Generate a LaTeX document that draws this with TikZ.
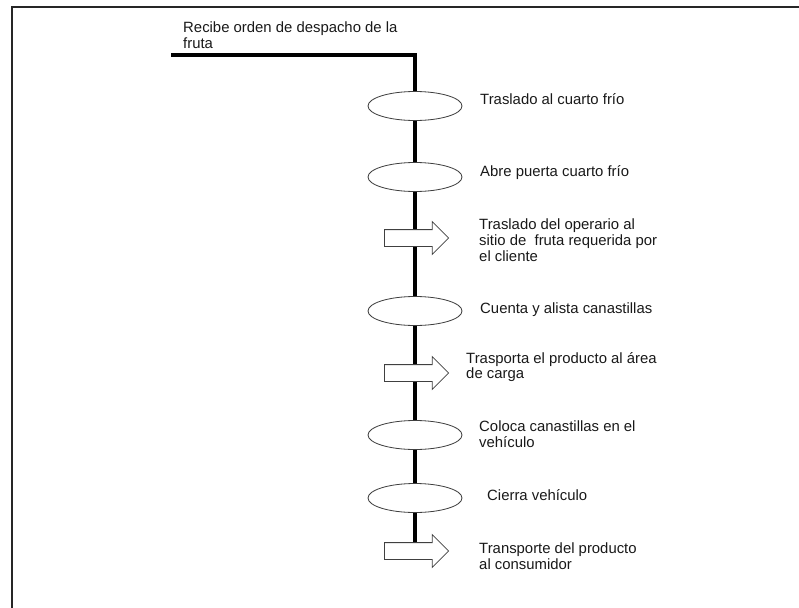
\documentclass[tikz,border=0pt]{standalone}
\usepackage{fontspec}
\setmainfont{Liberation Sans}
\usetikzlibrary{shapes.geometric,shapes.arrows,backgrounds}

\begin{document}
\begin{tikzpicture}[x=0.03cm,y=-0.03cm,
        marco/.style={line width=1.8pt, black!85},
        linea/.style={line width=3.2pt},
        operacion/.style={ellipse, draw=black!75, fill=white, line width=0.7pt,
            minimum width=2.82cm, minimum height=0.87cm, inner sep=0pt},
        transporte/.style={single arrow, draw=black!75, fill=white, line width=0.7pt,
            inner xsep=0.825cm, inner ysep=0.24cm, single arrow head extend=0.24cm, anchor=tail},
        texto/.style={anchor=west, align=left, inner sep=0pt, text=black!90,
            font=\fontsize{12.7}{13.4}\selectfont}]
    \useasboundingbox (0,0) rectangle (799,608);
    \draw[marco] (12,608) |- (799,7);

    \coordinate (inicio) at (171,55);
    \node[texto] (recibe) at (183,35) {Recibe orden de despacho de la\\fruta};

    \node[operacion] (op1) at (415,106) {};
    \node[operacion] (op2) at (415,177) {};
    \node[transporte] (tr3) at (384,238) {};
    \node[operacion] (op4) at (415,311) {};
    \node[transporte] (tr5) at (384,373) {};
    \node[operacion] (op6) at (415,435) {};
    \node[operacion] (op7) at (415,498) {};
    \node[transporte] (tr8) at (384,551) {};

    \begin{scope}[on background layer]
        \draw[linea] (inicio) -| (op1.center) -- (op2.center) -- (op4.center)
            -- (op6.center) -- (op7.center) -- (op7.center |- tr8.center);
    \end{scope}

    \node[texto] (t1) at (480,99) {Traslado al cuarto frío};
    \node[texto] (t2) at (480,173) {Abre puerta cuarto frío};
    \node[texto] (t3) at (479,240) {Traslado del operario al\\sitio de~ fruta requerida por\\el cliente};
    \node[texto] (t4) at (480,310) {Cuenta y alista canastillas};
    \node[texto] (t5) at (466,367) {Trasporta el producto al área\\de carga};
    \node[texto] (t6) at (479,434) {Coloca canastillas en el\\vehículo};
    \node[texto] (t7) at (487,495) {Cierra vehículo};
    \node[texto] (t8) at (479,556) {Transporte del producto\\al consumidor};
\end{tikzpicture}
\end{document}
